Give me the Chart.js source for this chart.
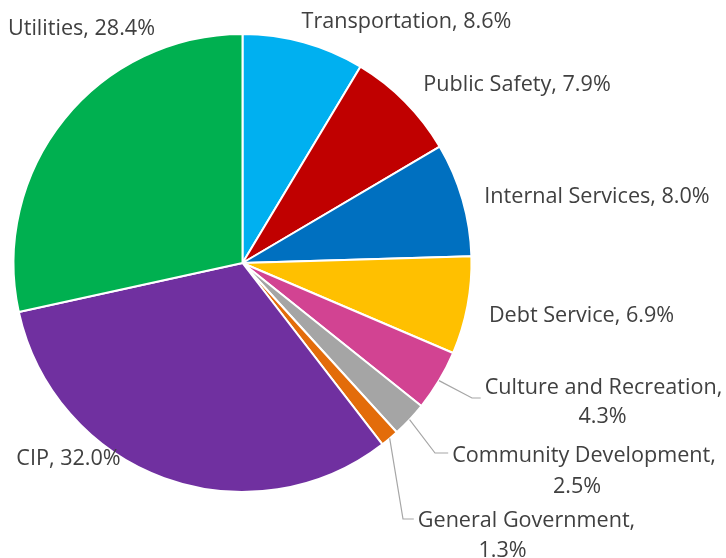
<!DOCTYPE html>
<html>
<head>
<meta charset="utf-8">
<script src="https://cdn.jsdelivr.net/npm/chart.js@4/dist/chart.umd.min.js"></script>
<style>
  html, body { margin: 0; padding: 0; background: #fff; }
  #wrap { width: 726px; height: 558px; }
</style>
</head>
<body>
<div id="wrap"><canvas id="budget-pie" width="726" height="558"></canvas></div>
<script>
// Budget share by function, clockwise from 12 o'clock
const categories = [
    'Transportation', 'Public Safety', 'Internal Services', 'Debt Service',
    'Culture and Recreation', 'Community Development', 'General Government',
    'CIP', 'Utilities'
];
const shares = [8.6, 7.9, 8.0, 6.9, 4.3, 2.5, 1.3, 32.0, 28.4];
const sliceColors = [
    '#00B0F0', '#C00000', '#0070C0', '#FFC000',
    '#D24392', '#A5A5A5', '#E36C0A', '#7030A0', '#00B050'
];

// where each label sits, relative to the pie centre: [centreX, baseline] per line;
// elbow = bend of the leader line for the thin slices
const labelLayout = [
    { lines: [[164, -235]] },
    { lines: [[274.5, -172]] },
    { lines: [[354.5, -60]] },
    { lines: [[339, 59]] },
    { lines: [[361, 131], [360, 160]], elbow: [229.5, 135] },
    { lines: [[341.5, 199], [334.5, 230]], elbow: [192.5, 190] },
    { lines: [[284, 264], [260, 294]], elbow: [160.5, 256] },
    { lines: [[-174, 202]] },
    { lines: [[-161, -228]] }
];

const LABEL_FONT = '21.6px "Open Sans", sans-serif';

const sliceLabels = {
    id: 'sliceLabels',
    afterDatasetsDraw(chart) {
        const ctx = chart.ctx;
        const arcs = chart.getDatasetMeta(0).data;
        ctx.save();
        ctx.font = LABEL_FONT;
        ctx.fillStyle = '#404040';
        ctx.textAlign = 'center';
        ctx.textBaseline = 'alphabetic';
        arcs.forEach((arc, i) => {
            const { x, y, startAngle, endAngle, outerRadius } = arc.getProps(
                ['x', 'y', 'startAngle', 'endAngle', 'outerRadius'], true);
            const layout = labelLayout[i];
            const pct = shares[i].toFixed(1) + '%';
            const texts = layout.lines.length > 1
                ? [categories[i] + ',', pct]
                : [categories[i] + ', ' + pct];

            if (layout.elbow) {
                const mid = (startAngle + endAngle) / 2;
                const sx = x + Math.cos(mid) * outerRadius;
                const sy = y + Math.sin(mid) * outerRadius;
                const ex = x + layout.elbow[0];
                const ey = y + layout.elbow[1];
                const textLeft = x + layout.lines[0][0] - ctx.measureText(texts[0]).width / 2;
                ctx.beginPath();
                ctx.strokeStyle = '#A6A6A6';
                ctx.lineWidth = 1.2;
                ctx.moveTo(sx, sy);
                ctx.lineTo(ex, ey);
                ctx.lineTo(textLeft - 4, ey);
                ctx.stroke();
            }

            texts.forEach((t, k) => {
                ctx.fillText(t, x + layout.lines[k][0], y + layout.lines[k][1]);
            });
        });
        ctx.restore();
    }
};

new Chart(document.getElementById('budget-pie'), {
    type: 'pie',
    data: {
        labels: categories,
        datasets: [{
            data: shares,
            backgroundColor: sliceColors,
            borderColor: '#ffffff',
            borderWidth: 2
        }]
    },
    options: {
        responsive: false,
        animation: false,
        layout: { padding: { left: 12, top: 33, right: 253, bottom: 65 } },
        plugins: {
            legend: { display: false },
            tooltip: { enabled: false }
        }
    },
    plugins: [sliceLabels]
});
</script>
</body>
</html>
